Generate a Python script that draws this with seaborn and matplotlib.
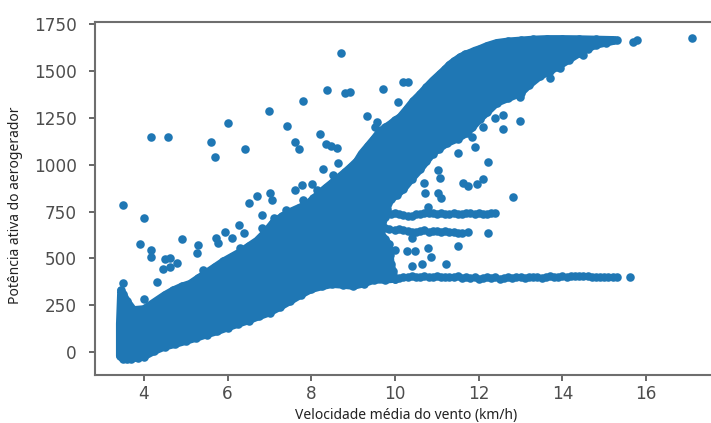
import numpy as np
import matplotlib
matplotlib.use('Agg')
import matplotlib.pyplot as plt
import seaborn as sns

# dense cloud outline (marker centres)
upper_x = [3.42, 3.45, 3.5, 3.6, 3.75, 4.0, 4.3, 4.5, 4.7, 4.9, 5.1, 5.3, 5.5, 5.7, 5.9, 6.1, 6.3, 6.5, 6.7, 6.9, 7.08, 7.3,
           7.5, 7.7, 7.9, 8.05, 8.2, 8.35, 8.5, 8.65, 8.8, 8.95, 9.09, 9.2, 9.35, 9.5, 9.64, 9.77, 9.9, 10.0, 10.12, 10.28,
           10.43, 10.6, 10.75, 10.9, 11.07, 11.2, 11.3, 11.42, 11.55, 11.68, 11.8, 11.9, 12.03, 12.2, 12.43, 12.7, 13.0,
           13.3, 13.63, 14.0, 14.4, 14.8, 15.2]
upper_y = [150, 330, 310, 270, 225, 230, 275, 305, 330, 350, 365, 395, 425, 455, 485, 510, 535, 565, 595, 640, 690, 725,
           750, 770, 790, 820, 850, 878, 905, 932, 960, 990, 1020, 1060, 1100, 1140, 1180, 1200, 1220, 1238, 1255, 1298,
           1340, 1378, 1415, 1450, 1485, 1512, 1535, 1555, 1575, 1590, 1600, 1610, 1620, 1636, 1652, 1660, 1665,
           1670, 1673, 1673, 1672, 1670, 1668]
lower_x = [15.3, 15.05, 14.8, 14.6, 14.4, 14.15, 13.9, 13.7, 13.46, 13.2, 13.0, 12.7, 12.43, 12.2, 12.03, 11.85, 11.72, 11.5,
           11.24, 11.05, 10.9, 10.75, 10.6, 10.4, 10.2, 10.05, 9.9, 9.8, 9.75, 9.7, 9.65, 9.75, 9.85, 9.88, 9.9, 9.95, 10.0,
           9.75, 9.5, 9.25, 9.0, 8.75, 8.5, 8.25, 8.0, 7.75, 7.5, 7.25, 7.0, 6.75, 6.5, 6.25, 6.0, 5.75, 5.5, 5.25, 5.0,
           4.75, 4.5, 4.25, 4.0, 3.85, 3.7, 3.6, 3.5, 3.42]
lower_y = [1665, 1652, 1640, 1620, 1595, 1560, 1525, 1500, 1472, 1425, 1382, 1355, 1330, 1280, 1245, 1200, 1170, 1140,
           1115, 1085, 1060, 1018, 975, 925, 870, 840, 815, 765, 720, 680, 640, 605, 575, 520, 470, 430, 390,
           385, 385, 365, 352, 358, 362, 350, 335, 305, 272, 240, 210, 190, 168, 150, 130, 110, 93, 75, 58,
           42, 28, 5, -25, -32, -35, -40, -38, -20]

# the flat line near 400 kW
band_x = [10.0, 10.1, 10.2, 10.3, 10.4, 10.5, 10.6, 10.7, 10.8, 10.9, 11.0, 11.1, 11.2, 11.3, 11.4, 11.5, 11.6, 11.7,
          11.8, 11.9, 12.0, 12.1, 12.2, 12.3, 12.4, 12.5, 12.6, 12.7, 12.8, 12.9, 13.0, 13.1, 13.2, 13.3, 13.4, 13.5,
          13.6, 13.7, 13.8, 13.9, 14.0, 14.1, 14.2, 14.3, 14.4, 14.5, 14.6, 14.7, 14.8, 14.9, 15.0, 15.1, 15.2, 15.3, 15.61]
band_y = [392, 396, 398, 400, 404, 402, 400, 404, 402, 398, 404, 400, 402, 398, 400, 404, 396, 400,
          394, 398, 392, 396, 400, 394, 398, 392, 396, 400, 394, 398, 402, 396, 400, 398, 402, 396,
          400, 404, 398, 402, 406, 402, 408, 404, 408, 406, 404, 402, 400, 402, 402, 400, 402, 402, 402]

# upper and middle stripes on the right of the cloud
stripe_x = [9.8, 9.9, 10.0, 10.1, 10.2, 10.3, 10.4, 10.5, 10.6, 10.7, 10.8, 10.9, 11.0, 11.1, 11.2, 11.3, 11.4, 11.5, 11.6, 11.7,
            11.8, 11.9, 12.0, 12.1, 12.2, 12.3, 12.39,
            9.75, 9.85, 10.0, 10.1, 10.2, 10.3, 10.4, 10.5, 10.6, 10.7, 10.8, 10.9, 11.0, 11.1, 11.2, 11.3, 11.4, 11.5, 11.6, 11.75, 12.23]
stripe_y = [735, 738, 740, 735, 730, 725, 728, 735, 738, 742, 745, 740, 738, 740, 735, 738, 740, 737, 738, 742,
            740, 738, 742, 736, 738, 740, 744,
            660, 655, 650, 655, 650, 645, 640, 642, 645, 650, 640, 645, 648, 642, 645, 640, 640, 636, 636, 640, 637]

# isolated points
out_x = [8.70, 8.37, 8.80, 8.92, 9.72, 10.2, 10.32, 10.08, 7.81, 6.99, 6.02, 7.41, 8.21, 4.18, 4.58, 5.61, 5.70, 6.41,
         7.61, 7.71, 8.36, 8.48, 8.62, 9.32, 9.58, 9.52, 8.64, 8.29, 8.52, 7.61, 7.77, 8.01, 8.13, 7.81, 6.69, 6.51,
         7.01, 7.07, 3.51, 7.39, 4.0, 3.90, 4.90, 3.51, 4.17, 4.18, 4.50, 4.62, 4.46, 4.30, 4.78, 4.62, 5.30, 5.26,
         5.72, 5.78, 5.94, 6.10, 6.28, 6.30, 6.82, 6.82, 7.10, 6.40, 4.0, 5.42, 5.50,
         12.59, 12.39, 12.99, 12.59, 12.11, 11.83, 11.91, 11.51, 12.23, 11.07, 11.03, 11.63, 11.75, 11.95, 12.11,
         12.83, 10.68, 10.72, 11.03, 11.11, 10.79, 15.77, 15.69, 17.10, 14.50, 13.70, 13.94, 12.99,
         11.51, 10.28, 10.48, 10.79, 10.87, 10.0, 10.40, 10.64, 11.21, 10.40]
out_y = [1599, 1398, 1382, 1391, 1407, 1444, 1444, 1337, 1343, 1286, 1225, 1207, 1165, 1148, 1148, 1120, 1043, 1086,
         1124, 1084, 1109, 1100, 1092, 1261, 1230, 1204, 1008, 976, 945, 865, 892, 897, 865, 812, 835, 794,
         848, 812, 785, 758, 714, 577, 602, 367, 545, 509, 495, 500, 442, 376, 474, 456, 572, 527,
         607, 580, 643, 607, 678, 554, 732, 660, 714, 634, 281, 438, 393,
         1266, 1248, 1234, 1191, 1204, 1150, 1097, 1061, 1017, 928, 972, 901, 888, 897, 922,
         826, 901, 851, 851, 821, 776, 1667, 1658, 1676, 1587, 1462, 1515, 1360,
         566, 541, 541, 554, 506, 545, 459, 470, 470, 607]

x_ticks = [4, 6, 8, 10, 12, 14, 16]
y_ticks = [0, 250, 500, 750, 1000, 1250, 1500, 1750]

blue = '#1f77b4'
grey = '#4d4d4d'

sns.set_style('ticks')
plt.rcParams['font.family'] = ['DejaVu Sans']

fig = plt.figure(figsize=(7.11, 4.23), dpi=100)
ax = fig.add_axes([95 / 711, 48 / 423, 616 / 711, 353 / 423])

# wide round edge on the cloud so its outline sits about a marker radius out
ax.fill(upper_x + lower_x, upper_y + lower_y, facecolor=blue, edgecolor=blue, lw=5.4, joinstyle='round')
dots_x = upper_x + lower_x + band_x + stripe_x + out_x
dots_y = upper_y + lower_y + band_y + stripe_y + out_y
sns.scatterplot(x=dots_x, y=dots_y, color=blue, s=38, linewidth=0, ax=ax)

ax.set_xlim(2.83, 17.55)
ax.set_ylim(-123, 1763)
ax.set_xticks(x_ticks)
ax.set_yticks(y_ticks)
ax.tick_params(colors=grey, labelsize=12.2, length=4, width=1.2)
ax.tick_params(axis='y', pad=9)

for s in ['left', 'top', 'bottom']:
    ax.spines[s].set_color('#6e6e6e')
    ax.spines[s].set_linewidth(1.5)
ax.spines['right'].set_visible(False)

ax.set_xlabel('Velocidade média do vento (km/h)', family='Noto Sans', fontsize=10, color='#222222')
ax.xaxis.set_label_coords((406 - 95) / 616, -33 / 353)
ax.set_ylabel('Potência ativa do aerogerador', family='Noto Sans', fontsize=10, color='#222222')
ax.yaxis.set_label_coords(-72 / 616, (375 - 205) / 353)

fig.savefig('out.png', dpi=100)
